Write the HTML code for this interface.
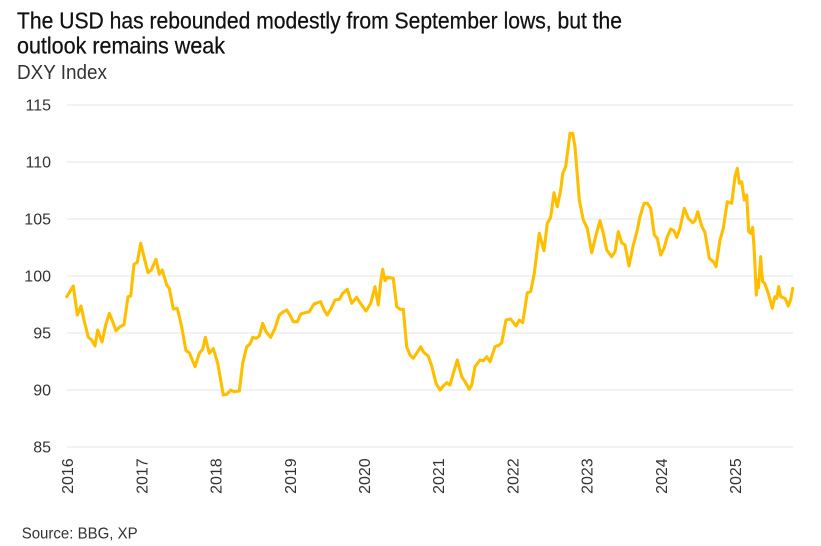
<!DOCTYPE html>
<html>
<head>
<meta charset="utf-8">
<style>
  html,body{margin:0;padding:0;background:#fff;}
  svg{display:block;}
  text{font-family:"Liberation Sans",Arial,sans-serif;}
</style>
</head>
<body>
<svg width="821" height="546" viewBox="0 0 821 546" xmlns="http://www.w3.org/2000/svg">
  <rect width="821" height="546" fill="#fff"/>
  <!-- Titles -->
  <text x="17" y="28.5" font-size="23" fill="#111" stroke="#111" stroke-width="0.25" textLength="605" lengthAdjust="spacingAndGlyphs">The USD has rebounded modestly from September lows, but the</text>
  <text x="17" y="53.5" font-size="23" fill="#111" stroke="#111" stroke-width="0.25" textLength="208" lengthAdjust="spacingAndGlyphs">outlook remains weak</text>
  <text x="17" y="79" font-size="20" fill="#333" textLength="90" lengthAdjust="spacingAndGlyphs">DXY Index</text>

  <!-- Gridlines -->
  <g stroke="#ebebeb" stroke-width="1.3">
    <line x1="67" y1="105" x2="793" y2="105"/>
    <line x1="67" y1="162" x2="793" y2="162"/>
    <line x1="67" y1="219" x2="793" y2="219"/>
    <line x1="67" y1="276" x2="793" y2="276"/>
    <line x1="67" y1="333" x2="793" y2="333"/>
    <line x1="67" y1="390" x2="793" y2="390"/>
    <line x1="67" y1="447" x2="793" y2="447"/>
  </g>

  <!-- Y labels -->
  <g font-size="16" fill="#333" text-anchor="end">
    <text x="51" y="110.7">115</text>
    <text x="51" y="167.7">110</text>
    <text x="51" y="224.7">105</text>
    <text x="51" y="281.7">100</text>
    <text x="51" y="338.7">95</text>
    <text x="51" y="395.7">90</text>
    <text x="51" y="452.7">85</text>
  </g>

  <!-- X labels -->
  <g font-size="16" fill="#333" text-anchor="end">
    <text transform="translate(73.2,458.3) rotate(-90)">2016</text>
    <text transform="translate(147.4,458.3) rotate(-90)">2017</text>
    <text transform="translate(221.6,458.3) rotate(-90)">2018</text>
    <text transform="translate(295.8,458.3) rotate(-90)">2019</text>
    <text transform="translate(370.0,458.3) rotate(-90)">2020</text>
    <text transform="translate(444.2,458.3) rotate(-90)">2021</text>
    <text transform="translate(518.4,458.3) rotate(-90)">2022</text>
    <text transform="translate(592.6,458.3) rotate(-90)">2023</text>
    <text transform="translate(666.8,458.3) rotate(-90)">2024</text>
    <text transform="translate(741.0,458.3) rotate(-90)">2025</text>
  </g>

  <!-- Series -->
  <polyline fill="none" stroke="#FFBF00" stroke-width="3.1" stroke-linejoin="round" stroke-linecap="round" points="
66.7,296.7 73.3,286 77.3,315 81,306 84,320 88.3,337.3 91.7,340 95,346 97.7,330 102,342 105.7,325 109.3,313.3 112.7,321.7 116,330.7 120,326.7 124,324.7 128,296.7 130.7,296 134,264.3 137.3,262.3 140.7,243.3 144,256.7 148,272.7 151.3,270 156,259.3 159.3,274.3 162.3,270 166.7,285 169.3,288.3 173.3,309 177.3,308.3 181.3,325 186,350.7 189.3,352.7 195,366.7 199.3,353.3 202.7,349.3 205.3,337.3 209.3,353.3 213.3,348.7 217.7,363.3 223.3,395 226.7,394.3 230.7,390 234,391.7 239.3,391 242.7,363.3 246.7,346.7 250,344
252.7,337.3 256,338.3 259.3,336 262.7,323.3 266,331.7 270.7,337.3 275,328.3 279.3,315 283.3,311.7 286.7,310 290,315 293.3,321.7 297.3,321.7 300.7,314 305,312.7 309.3,311.7 314,304 317.7,302.7 320.7,301.7 324,310 327.3,315 330.7,309.3 335,300 339.3,299.3 342.7,293.3 347.3,289.3 351.7,303.3 356.7,297.3 360,302.7 366,311 370.7,303.3 375,286.7 378.3,305 380.7,281.7 382.7,269.3 385,280.7 387.3,277.3 393.3,278.3 396.7,306.7 400,309.3 403.3,309.3 406.7,346.7 410,355 413.3,358.3 416.7,353.3 420.7,346.7 424,352.7 428.3,356 431.7,366 436,383.3 440,390 443.3,386 446.7,382.7
450,385 453.3,373.3 457.3,360 461.7,376.7 465,381.7 469.3,389.3 471.7,385 475,366.7 480,360 483.3,360.7 486.7,356.7 490,361.7 495,346.7 499.3,345 501.7,342.7 506,320 510.7,319 516,326 519.3,320 522.7,322.7 527.3,292.7 530.7,291.7 534.3,273.3 539.3,233.3 544,250.7 547.3,223.3 550.7,217.3 554,192.7 557.3,206.7 560.7,190 562.7,173.3 565.7,166.7 570,133.3 572.7,133.3 575,146.7 579.3,200 583.3,220 587.3,228.3 591.7,252.7 596,235 600,220.7 603.3,233.3 606.7,250 611.7,256.7 615,251.7 618.3,231.7 621.7,242.7 625,245 629,266 633.3,245 637.3,230 640,216.7
644,203.3 647.3,203.3 650.7,208.3 654.3,235 657.3,238.3 660.7,255 664,248.3 667.3,236.7 670.7,229 674,230.7 676.7,237.3 680,228.3 684.3,208.3 688.3,218.3 692.7,222.7 695,220.7 697.7,211.7 701.7,226 705,232.7 709.3,258.3 713.3,261.7 716,266.7 720,240 723.3,228.3 727.3,201.7 731.7,203.3 735,176.7 737.3,168.3 739.3,183.3 741.7,181.7 744.3,200 746.7,195 748.7,231.7 750.7,233.3 752.7,227.3 754.3,251.7 756.3,295 757.5,280 758.5,288 760.7,256.7 761.7,272 762.7,281.7 764.7,283.3 768.3,293.3 772.3,308.3 775,296.7 776.7,298.3 778.7,286.7 780.7,296.7 785,298.3 788.3,306 790.7,299.3 792.7,288.3"/>

  <!-- Source -->
  <text x="21.7" y="538.3" font-size="15.5" fill="#333" textLength="116" lengthAdjust="spacingAndGlyphs">Source: BBG, XP</text>
</svg>
</body>
</html>
